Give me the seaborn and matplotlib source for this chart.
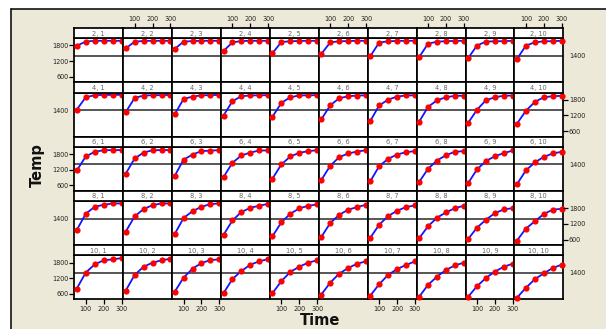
import matplotlib
matplotlib.use("Agg")
import matplotlib.pyplot as plt
import seaborn as sns
import pandas as pd
from matplotlib.patches import Rectangle
from matplotlib.lines import Line2D

# ---------------- data ----------------
times = [50, 100, 150, 200, 250, 300]
row_levels = [2, 4, 6, 8, 10]
col_levels = [1, 2, 3, 4, 5, 6, 7, 8, 9, 10]

temp_2 = [
    [1790, 1950, 1980, 1980, 1980, 1980],
    [1690, 1945, 1975, 1980, 1980, 1980],
    [1665, 1945, 1970, 1980, 1980, 1980],
    [1590, 1920, 1970, 1980, 1980, 1980],
    [1500, 1935, 1960, 1975, 1980, 1980],
    [1475, 1920, 1960, 1970, 1980, 1980],
    [1385, 1910, 1960, 1975, 1980, 1980],
    [1350, 1870, 1945, 1965, 1975, 1980],
    [1310, 1795, 1950, 1960, 1965, 1980],
    [1275, 1795, 1920, 1960, 1965, 1980],
]
temp_4 = [
    [1425, 1895, 1975, 1985, 1985, 1990],
    [1325, 1870, 1960, 1975, 1975, 1985],
    [1235, 1830, 1920, 1970, 1975, 1985],
    [1195, 1745, 1935, 1965, 1970, 1975],
    [1145, 1680, 1895, 1965, 1970, 1975],
    [1045, 1590, 1855, 1935, 1960, 1970],
    [980, 1580, 1805, 1920, 1965, 1970],
    [955, 1525, 1780, 1895, 1950, 1955],
    [905, 1415, 1780, 1895, 1955, 1960],
    [880, 1375, 1715, 1895, 1935, 1950],
]
temp_6 = [
    [1170, 1705, 1885, 1945, 1950, 1950],
    [1045, 1630, 1855, 1945, 1950, 1950],
    [955, 1580, 1780, 1910, 1930, 1945],
    [915, 1465, 1745, 1855, 1935, 1935],
    [855, 1400, 1705, 1845, 1910, 1945],
    [805, 1350, 1680, 1820, 1895, 1945],
    [750, 1335, 1615, 1780, 1870, 1910],
    [725, 1235, 1550, 1755, 1885, 1910],
    [675, 1210, 1525, 1720, 1830, 1935],
    [640, 1170, 1475, 1690, 1820, 1885],
]
temp_8 = [
    [970, 1590, 1855, 1935, 1985, 1985],
    [905, 1490, 1770, 1920, 1985, 1985],
    [805, 1425, 1690, 1855, 1960, 1985],
    [780, 1335, 1655, 1820, 1895, 1970],
    [725, 1260, 1590, 1795, 1895, 1945],
    [700, 1235, 1550, 1745, 1845, 1935],
    [665, 1170, 1500, 1705, 1845, 1910],
    [650, 1110, 1440, 1640, 1805, 1895],
    [615, 1055, 1360, 1615, 1755, 1805],
    [560, 1020, 1300, 1580, 1745, 1780],
]
temp_10 = [
    [805, 1415, 1730, 1885, 1920, 1970],
    [725, 1325, 1640, 1795, 1885, 1945],
    [675, 1220, 1565, 1780, 1895, 1920],
    [625, 1170, 1475, 1720, 1845, 1935],
    [625, 1085, 1440, 1640, 1795, 1885],
    [575, 1030, 1375, 1590, 1755, 1845],
    [525, 970, 1325, 1550, 1705, 1845],
    [485, 945, 1260, 1515, 1690, 1795],
    [485, 890, 1210, 1450, 1640, 1755],
    [450, 830, 1160, 1385, 1590, 1720],
]
temps_by_row = [temp_2, temp_4, temp_6, temp_8, temp_10]

recs = []
for r, block in zip(row_levels, temps_by_row):
    for c, vals in zip(col_levels, block):
        for t, v in zip(times, vals):
            recs.append({"row": r, "col": c, "Time": t, "Temp": v})
df = pd.DataFrame(recs)

# ---------------- figure ----------------
sns.set_style("white")
plt.rcParams["font.family"] = ["DejaVu Sans"]

W, H = 606, 329
fig = plt.figure(figsize=(W / 100, H / 100), dpi=100)
fig.patch.set_facecolor("white")

BEIGE = "#ECE9D8"
fig.patches.append(Rectangle((11 / W, 0), 1 - 11 / W, 1 - 9.3 / H,
                             transform=fig.transFigure, facecolor=BEIGE,
                             edgecolor="none", zorder=-10))
fig.lines.append(Line2D([11 / W, 1], [1 - 9.3 / H, 1 - 9.3 / H],
                        transform=fig.transFigure, color="black", lw=1.1))
fig.lines.append(Line2D([11 / W, 11 / W], [0, 1 - 9.3 / H],
                        transform=fig.transFigure, color="black", lw=1.1))

left0 = 74.3
pw = 48.9
top0 = 28.0
pitch = 54.26
sh = 10.3
bh = 44.0
XLIM = (36, 309)
YLIM = (390, 2075)
LBL = 4.7
TICKC = "#222222"
SPW = 1.25


def fx(x):
    return x / W


def fy(y):
    return 1 - y / H


for i, r in enumerate(row_levels):
    for j, c in enumerate(col_levels):
        x0 = left0 + j * pw
        st = top0 + i * pitch
        bt = st + sh
        ax = fig.add_axes([fx(x0), fy(bt + bh), pw / W, bh / H])
        sax = fig.add_axes([fx(x0), fy(bt), pw / W, sh / H])

        sub = df[(df["row"] == r) & (df["col"] == c)]
        ax.axhline(1400, color="#3a3a3a", lw=1.2, zorder=1)
        sns.lineplot(data=sub, x="Time", y="Temp", ax=ax, color="#1414ff",
                     lw=1.3, estimator=None, legend=False, zorder=2)
        sns.scatterplot(data=sub, x="Time", y="Temp", ax=ax, color="#ff0000",
                        s=20, linewidth=0, legend=False, zorder=3, clip_on=False)
        ax.set_xlim(*XLIM)
        ax.set_ylim(*YLIM)
        ax.set_xlabel("")
        ax.set_ylabel("")
        ax.set_facecolor("white")
        for sp in ax.spines.values():
            sp.set_color("black")
            sp.set_linewidth(SPW)
            sp.set_visible(True)

        ax.set_xticks([])
        ax.set_yticks([])

        if i == len(row_levels) - 1 and j % 2 == 0:
            ax.set_xticks([100, 200, 300])
            ax.set_xticklabels(["100", "200", "300"])
            ax.tick_params(axis="x", bottom=True, direction="out", length=3.5,
                           width=0.9, pad=1.2, labelsize=LBL, labelcolor=TICKC,
                           color="black")

        if j == 0:
            if i % 2 == 0:
                ax.set_yticks([600, 1200, 1800])
                ax.set_yticklabels(["600", "1200", "1800"])
                ax.tick_params(axis="y", left=True, direction="out", length=3.5,
                               width=0.9, pad=0.6, labelsize=LBL,
                               labelcolor=TICKC, color="black")
            else:
                ax.set_yticks([1400])
                ax.set_yticklabels(["1400"])
                ax.tick_params(axis="y", left=True, length=0, pad=4.3,
                               labelsize=LBL, labelcolor=TICKC)
        if j == len(col_levels) - 1:
            axr = ax.twinx()
            axr.set_ylim(*YLIM)
            for sp in axr.spines.values():
                sp.set_visible(False)
            if i % 2 == 0:
                axr.set_yticks([1400])
                axr.set_yticklabels(["1400"])
                axr.tick_params(axis="y", right=True, length=0, pad=4.3,
                                labelsize=LBL, labelcolor=TICKC)
            else:
                axr.set_yticks([600, 1200, 1800])
                axr.set_yticklabels(["600", "1200", "1800"])
                axr.tick_params(axis="y", right=True, direction="out",
                                length=3.5, width=0.9, pad=0.6, labelsize=LBL,
                                labelcolor=TICKC, color="black")

        sax.set_xlim(*XLIM)
        sax.set_ylim(0, 1)
        sax.set_facecolor("white")
        sax.set_yticks([])
        for sp in sax.spines.values():
            sp.set_color("black")
            sp.set_linewidth(SPW)
        sax.text(0.5, 0.45, f"{r}, {c}", transform=sax.transAxes,
                 ha="center", va="center", fontsize=4.8, color="#666666")
        if i == 0 and j % 2 == 1:
            sax.set_xticks([100, 200, 300])
            sax.set_xticklabels(["100", "200", "300"])
            sax.tick_params(axis="x", top=True, bottom=False, labeltop=True,
                            labelbottom=False, direction="out", length=3.5,
                            width=0.9, pad=0.8, labelsize=LBL,
                            labelcolor=TICKC, color="black")
        else:
            sax.set_xticks([])

fig.text(fx(37.5), fy(165), "Temp", rotation=90, ha="center", va="center",
         fontsize=10.5, color="#111111", fontweight="semibold")
fig.text(fx(320), fy(320.5), "Time", ha="center", va="center",
         fontsize=10.5, color="#111111", fontweight="semibold")

fig.savefig("out.png", dpi=100, facecolor=fig.get_facecolor())
